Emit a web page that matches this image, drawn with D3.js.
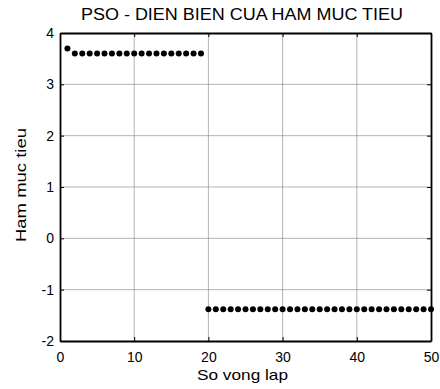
<!DOCTYPE html>
<html>
<head>
<meta charset="utf-8">
<script src="https://cdn.jsdelivr.net/npm/d3@7/dist/d3.min.js"></script>
<style>
  body { margin: 0; background: #fff; }
  text { font-family: "Liberation Sans", Arial, sans-serif; }
</style>
</head>
<body>
<svg id="chart" width="440" height="389"></svg>
<script>
// iteration number and objective value per iteration
const iterations = d3.range(1, 51)
const values = [3.7].concat(d3.range(18).map(() => 3.6), d3.range(31).map(() => -1.38))
const xTicks = [0, 10, 20, 30, 40, 50]
const yTicks = [-2, -1, 0, 1, 2, 3, 4]

const svg = d3.select('#chart')
const mLeft = 60, mRight = 431, mTop = 33, mBottom = 341

const x = d3.scaleLinear().domain([0, 50]).range([mLeft, mRight])
const y = d3.scaleLinear().domain([-2, 4]).range([mBottom, mTop])

// grid
const grid = svg.append('g').attr('stroke', '#7f7f7f').attr('stroke-width', 0.6)
grid.selectAll('.gx').data(xTicks.slice(1, -1)).join('line')
  .attr('x1', d => x(d)).attr('x2', d => x(d))
  .attr('y1', mTop).attr('y2', mBottom)
grid.selectAll('.gy').data(yTicks.slice(1, -1)).join('line')
  .attr('y1', d => y(d)).attr('y2', d => y(d))
  .attr('x1', mLeft).attr('x2', mRight)

// axes with inward ticks, plain hyphen for negatives like matlab
const fmt = d => String(d)
svg.append('g').attr('transform', `translate(0,${mBottom})`)
  .call(d3.axisBottom(x).tickValues(xTicks).tickFormat(fmt).tickSizeInner(-4).tickSizeOuter(0).tickPadding(11.5))
svg.append('g').attr('transform', `translate(${mLeft},0)`)
  .call(d3.axisLeft(y).tickValues(yTicks).tickFormat(fmt).tickSizeInner(-4).tickSizeOuter(0).tickPadding(6))
svg.append('g').attr('transform', `translate(0,${mTop})`)
  .call(d3.axisTop(x).tickValues(xTicks).tickSizeInner(-4).tickSizeOuter(0).tickFormat(''))
svg.append('g').attr('transform', `translate(${mRight},0)`)
  .call(d3.axisRight(y).tickValues(yTicks).tickSizeInner(-4).tickSizeOuter(0).tickFormat(''))

svg.selectAll('.domain').attr('stroke', '#000').attr('stroke-width', 1.8)
svg.selectAll('.tick line').attr('stroke', '#000')
svg.selectAll('.tick text').attr('font-size', 14).attr('fill', '#000')
  .attr('font-family', '"Liberation Sans", Arial, sans-serif')

// points
svg.append('g').selectAll('circle').data(iterations).join('circle')
  .attr('cx', d => x(d))
  .attr('cy', (d, i) => y(values[i]))
  .attr('r', 3)
  .attr('fill', '#000')

// labels
svg.append('text').attr('x', 242).attr('y', 19.5)
  .attr('text-anchor', 'middle').attr('font-size', 16)
  .attr('textLength', 322).attr('lengthAdjust', 'spacingAndGlyphs')
  .text('PSO - DIEN BIEN CUA HAM MUC TIEU')
svg.append('text').attr('x', 242.5).attr('y', 380)
  .attr('text-anchor', 'middle').attr('font-size', 15)
  .attr('textLength', 91).attr('lengthAdjust', 'spacingAndGlyphs')
  .text('So vong lap')
svg.append('text').attr('transform', `translate(26,185) rotate(-90)`)
  .attr('text-anchor', 'middle').attr('font-size', 15)
  .attr('textLength', 114).attr('lengthAdjust', 'spacingAndGlyphs')
  .text('Ham muc tieu')
</script>
</body>
</html>
